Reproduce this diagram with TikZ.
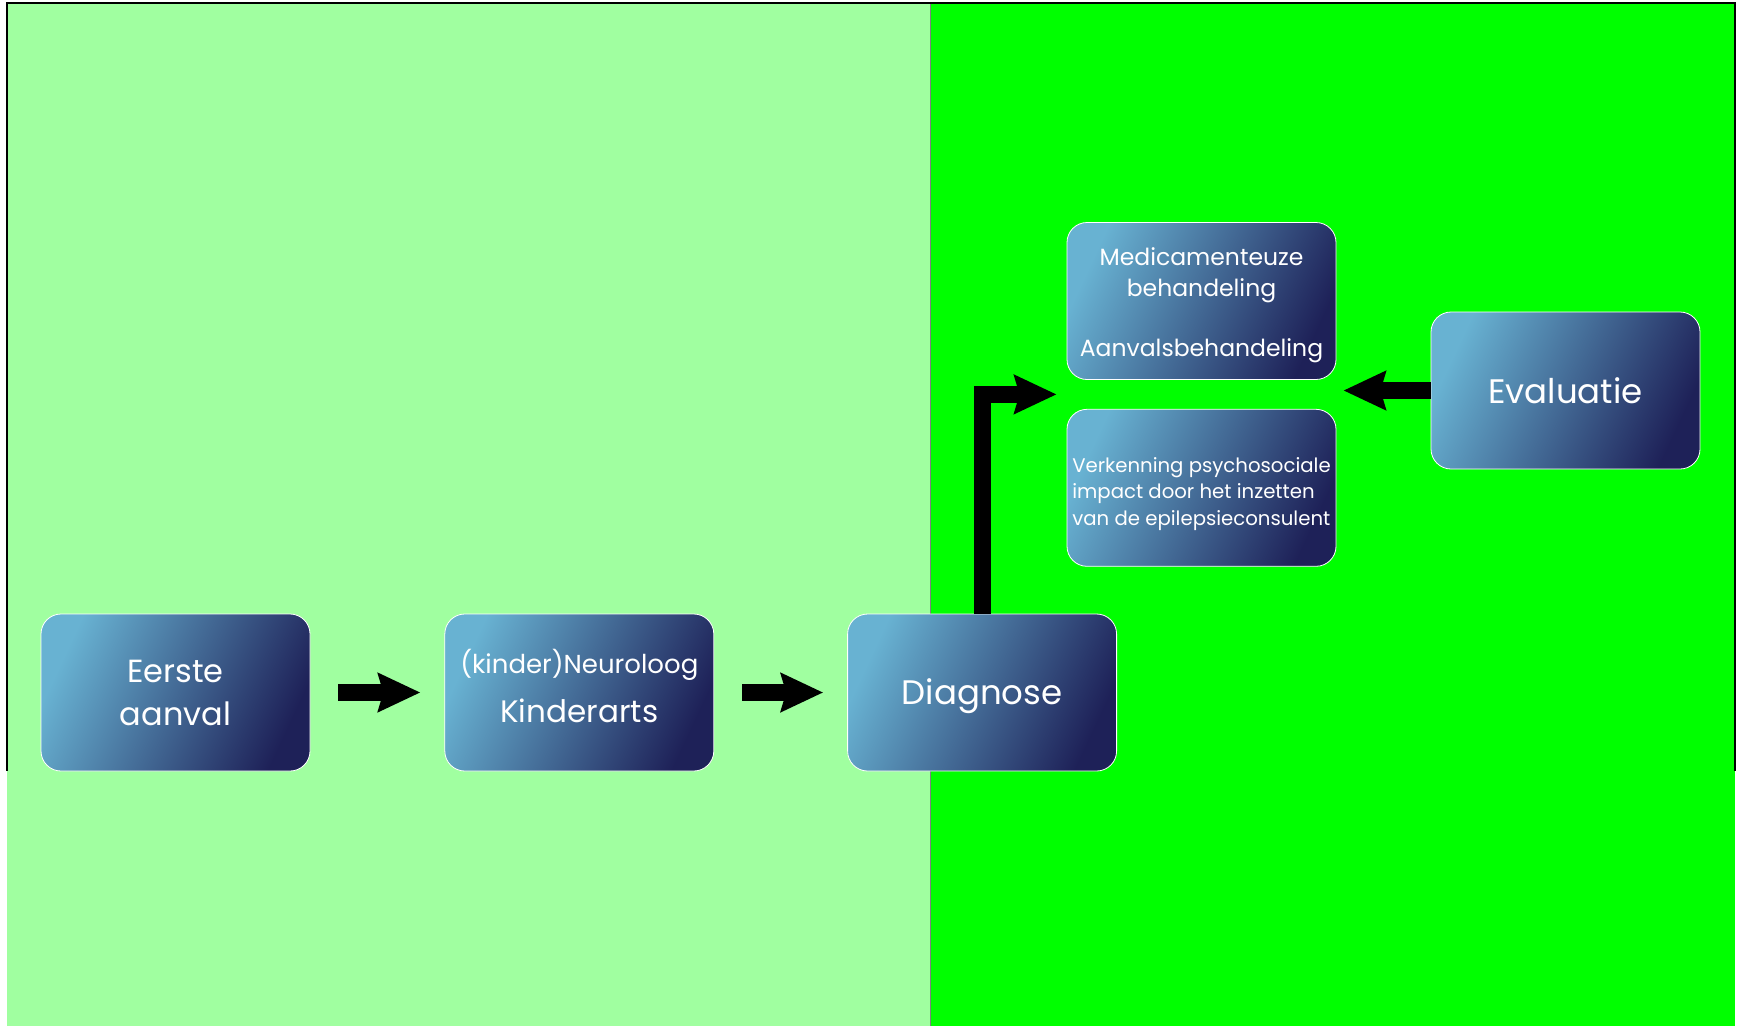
\documentclass[tikz,border=0pt]{standalone}
\usepackage{fontspec}
\setmainfont{Poppins}
\usepackage{tikz}
\usetikzlibrary{arrows.meta,positioning,calc}

\definecolor{paleGreen}{RGB}{160,255,160}
\definecolor{brightGreen}{RGB}{0,255,0}
\definecolor{boxLight}{RGB}{104,178,210}
\definecolor{boxMid}{RGB}{56,88,134}
\definecolor{boxDark}{RGB}{30,33,88}

\begin{document}
\begin{tikzpicture}[
  x=1pt, y=-1pt,
  >=Stealth,
  stap/.style={draw=white, line width=0.8pt, rounded corners=20pt, minimum width=269pt, minimum height=157pt, inner sep=3pt, align=center, text=white, left color=boxLight, middle color=boxMid, right color=boxDark, shading angle=65},
  arr/.style={-{Stealth[length=42pt, width=38pt, inset=5pt]}, line width=17pt, shorten <=28pt, shorten >=24pt}]
  \useasboundingbox (0,0) rectangle (1739,1026);
  % two phases
  \fill[paleGreen] (7,4) rectangle (930,1026);
  \fill[brightGreen] (930,4) rectangle (1735,1026);
  \draw[gray, line width=1pt] (930,4) -- (930,1026);
  \draw[line width=1.5pt] (7,771) -- (7,3) -- (1735,3) -- (1735,771);
  % steps
  \node[stap, font=\fontsize{32}{43}\selectfont] (eerste) at (175.5,692.5) {Eerste\\aanval};
  \node[stap, right=134pt of eerste, font=\fontsize{31}{49}\selectfont] (kinder) {{\fontsize{26}{49}\selectfont (kinder)Neuroloog}\\Kinderarts\rule[-13pt]{0pt}{13pt}};
  \node[stap, right=133pt of kinder, font=\fontsize{34}{40}\selectfont] (diag) {\rule{0pt}{33pt}Diagnose};
  \node[stap, font=\fontsize{23.5}{31}\selectfont] (med) at (1201.5,301) {\rule{0pt}{26pt}Medicamenteuze\\behandeling\\[29pt]Aanvalsbehandeling};
  \node[stap, below=29pt of med, align=left, font=\fontsize{19.7}{26.6}\selectfont] (verk) {\rule{0pt}{27pt}Verkenning psychosociale\\impact door het inzetten\\van de epilepsieconsulent};
  \node[stap, font=\fontsize{34}{40}\selectfont] (eval) at (1565.5,390.5) {Evaluatie};
  \coordinate (kier) at ($(med.south west)!0.5!(verk.north west)$);
  \draw[arr] (eerste) -- (kinder);
  \draw[arr] (kinder) -- (diag);
  \draw[arr, shorten <=0pt, shorten >=10pt] (diag.north) |- (kier);
  \draw[arr, shorten <=0pt, shorten >=7pt] (eval.west) -- (eval.west -| med.east);
\end{tikzpicture}
\end{document}
